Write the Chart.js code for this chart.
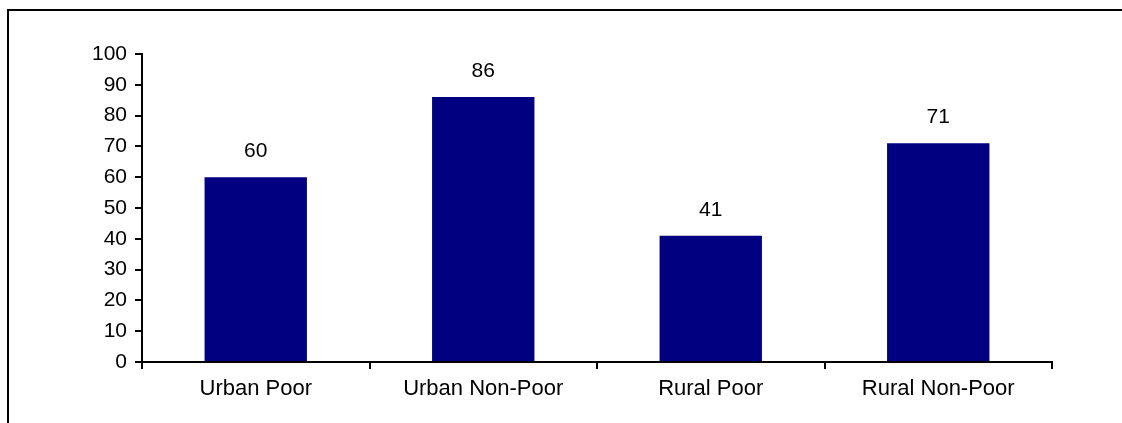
<!DOCTYPE html>
<html>
<head>
<meta charset="utf-8">
<script src="https://cdn.jsdelivr.net/npm/chart.js@4/dist/chart.umd.min.js"></script>
<style>
  html, body { margin: 0; padding: 0; background: #fff; }
  #wrap { position: absolute; left: 0; top: 0; width: 1122px; height: 423px; }
</style>
</head>
<body>
<div id="wrap"><canvas id="chart" width="1122" height="423"></canvas></div>
<script>
var categories = ['Urban Poor', 'Urban Non-Poor', 'Rural Poor', 'Rural Non-Poor'];
var values = [60, 86, 41, 71];
var yTicks = [0, 10, 20, 30, 40, 50, 60, 70, 80, 90, 100];

var FONT = '"Liberation Sans", Arial, sans-serif';
var FONT_SIZE = 21;

// frame lines (top and left) around the chart
var framePlugin = {
  id: 'frame',
  beforeDraw: function (chart) {
    var c = chart.ctx;
    c.save();
    c.fillStyle = '#fff';
    c.fillRect(0, 0, chart.width, chart.height);
    c.strokeStyle = '#000';
    c.lineWidth = 2;
    c.beginPath();
    c.moveTo(8, chart.height);
    c.lineTo(8, 10);
    c.lineTo(chart.width, 10);
    c.stroke();
    c.restore();
  }
};

// value above each bar
var valuePlugin = {
  id: 'values',
  afterDatasetsDraw: function (chart) {
    var c = chart.ctx;
    var meta = chart.getDatasetMeta(0);
    c.save();
    c.font = FONT_SIZE + 'px ' + FONT;
    c.fillStyle = '#000';
    c.textAlign = 'center';
    c.textBaseline = 'alphabetic';
    meta.data.forEach(function (bar, i) {
      c.fillText(String(values[i]), bar.x, bar.y - 20);
    });
    c.restore();
  }
};

var ctx = document.getElementById('chart').getContext('2d');
var myChart = new Chart(ctx, {
  type: 'bar',
  data: {
    labels: categories,
    datasets: [{
      data: values,
      backgroundColor: '#000080',
      borderWidth: 0,
      categoryPercentage: 1,
      barPercentage: 0.45
    }]
  },
  options: {
    responsive: false,
    animation: false,
    events: [],
    layout: { padding: { left: 0, top: 54, right: 70, bottom: 0 } },
    plugins: {
      legend: { display: false },
      tooltip: { enabled: false }
    },
    scales: {
      x: {
        offset: true,
        grid: {
          offset: true,
          drawOnChartArea: false,
          drawTicks: true,
          tickLength: 7,
          color: '#000',
          lineWidth: 2
        },
        border: { display: true, color: '#000', width: 2 },
        ticks: {
          color: '#000',
          padding: 7,
          font: { family: FONT, size: 22 },
          maxRotation: 0
        },
        afterFit: function (scale) { scale.height = 61; }
      },
      y: {
        min: 0,
        max: 100,
        afterBuildTicks: function (scale) {
          scale.ticks = yTicks.map(function (v) { return { value: v }; });
        },
        grid: {
          drawOnChartArea: false,
          drawTicks: true,
          tickLength: 7,
          color: '#000',
          lineWidth: 2
        },
        border: { display: true, color: '#000', width: 2 },
        ticks: {
          color: '#000',
          padding: 8,
          font: { family: FONT, size: FONT_SIZE }
        },
        afterFit: function (scale) { scale.width = 142; }
      }
    }
  },
  plugins: [framePlugin, valuePlugin]
});
</script>
</body>
</html>
